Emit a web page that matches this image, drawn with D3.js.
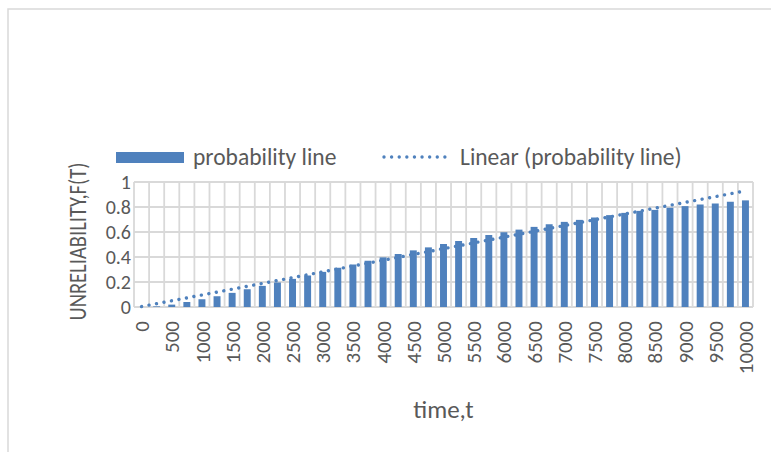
<!DOCTYPE html>
<html>
<head>
<meta charset="utf-8">
<script src="https://cdn.jsdelivr.net/npm/d3@7"></script>
<style>
  html, body { margin: 0; padding: 0; background: #fff; }
  svg { display: block; }
  text { font-family: Carlito, Calibri, Lato, sans-serif; fill: #595959; }
</style>
</head>
<body>
<svg id="chart" width="771" height="452"></svg>
<script>
// time, t (hours) for each bar
const times = [0, 250, 500, 750, 1000, 1250, 1500, 1750, 2000, 2250, 2500, 2750,
  3000, 3250, 3500, 3750, 4000, 4250, 4500, 4750, 5000, 5250, 5500, 5750, 6000,
  6250, 6500, 6750, 7000, 7250, 7500, 7750, 8000, 8250, 8500, 8750, 9000, 9250,
  9500, 9750, 10000];

// unreliability F(t)
const probability = [0, 0.005, 0.019, 0.040, 0.062, 0.086, 0.113, 0.142, 0.169,
  0.196, 0.225, 0.252, 0.281, 0.314, 0.340, 0.370, 0.397, 0.424, 0.453, 0.477,
  0.504, 0.528, 0.552, 0.576, 0.598, 0.619, 0.641, 0.662, 0.681, 0.697, 0.716,
  0.735, 0.753, 0.769, 0.777, 0.794, 0.807, 0.820, 0.828, 0.842, 0.853];

const yTicks = [0, 0.2, 0.4, 0.6, 0.8, 1];
const xTickLabels = [0, 500, 1000, 1500, 2000, 2500, 3000, 3500, 4000, 4500, 5000,
  5500, 6000, 6500, 7000, 7500, 8000, 8500, 9000, 9500, 10000];

const seriesName = "probability line";
const trendName = "Linear (probability line)";
const xTitle = "time,t";
const yTitle = "UNRELIABILITY,F(T)";

const blue = "#4f81bd";
const grid = "#d9d9d9";

const svg = d3.select("#chart");

// outer chart frame
svg.append("path")
  .attr("d", "M8,452 V9 H771")
  .attr("fill", "none").attr("stroke", grid).attr("stroke-width", 1.5);

const plot = { left: 134, right: 753, top: 182, bottom: 307 };

const x = d3.scaleBand()
  .domain(times)
  .range([plot.left, plot.right])
  .paddingInner(0.54).paddingOuter(0.27);

const y = d3.scaleLinear().domain([0, 1]).range([plot.bottom, plot.top]);

// horizontal gridlines
svg.append("g").selectAll("line").data(yTicks).join("line")
  .attr("x1", plot.left).attr("x2", plot.right)
  .attr("y1", d => y(d)).attr("y2", d => y(d))
  .attr("stroke", grid).attr("stroke-width", 1.8);

// vertical gridlines on category boundaries
const boundaries = d3.range(times.length + 1).map(i => plot.left + i * (plot.right - plot.left) / times.length);
svg.append("g").selectAll("line").data(boundaries).join("line")
  .attr("x1", d => d).attr("x2", d => d)
  .attr("y1", plot.top).attr("y2", plot.bottom)
  .attr("stroke", grid).attr("stroke-width", 1.8);

// bars
svg.append("g").selectAll("rect").data(times).join("rect")
  .attr("x", d => x(d))
  .attr("width", x.bandwidth())
  .attr("y", (d, i) => y(probability[i]))
  .attr("height", (d, i) => y(0) - y(probability[i]))
  .attr("fill", blue);

// least-squares linear trend over category index (1..n)
const n = probability.length;
const idx = d3.range(1, n + 1);
const mx = d3.mean(idx), my = d3.mean(probability);
const slope = d3.sum(idx, (k, i) => (k - mx) * (probability[i] - my)) / d3.sum(idx, k => (k - mx) ** 2);
const intercept = my - slope * mx;
const trend = d => intercept + slope * (times.indexOf(d) + 1);
const cx = d => x(d) + x.bandwidth() / 2;

svg.append("line")
  .attr("x1", cx(times[0])).attr("y1", y(trend(times[0])))
  .attr("x2", cx(times[n - 1])).attr("y2", y(trend(times[n - 1])))
  .attr("stroke", blue).attr("stroke-width", 3.4)
  .attr("stroke-linecap", "round").attr("stroke-dasharray", "0.01 7.6");

// y axis labels
svg.append("g").selectAll("text").data(yTicks).join("text")
  .attr("x", 131).attr("y", d => y(d)).attr("dy", "0.36em")
  .attr("text-anchor", "end").style("font-size", "20px")
  .text(d => d);

// x axis labels, rotated
const labelled = new Set(xTickLabels);
svg.append("g").selectAll("text").data(times.filter(t => labelled.has(t))).join("text")
  .attr("transform", d => `translate(${cx(d)},321) rotate(-90)`)
  .attr("dy", "0.36em").attr("text-anchor", "end").style("font-size", "21px")
  .text(d => d);

// axis titles
svg.append("text")
  .attr("transform", `translate(86,${(plot.top + plot.bottom) / 2 - 3}) rotate(-90)`)
  .attr("text-anchor", "middle").style("font-size", "25px")
  .attr("textLength", 158).attr("lengthAdjust", "spacingAndGlyphs")
  .text(yTitle);

svg.append("text")
  .attr("x", (plot.left + plot.right) / 2).attr("y", 418)
  .attr("text-anchor", "middle").style("font-size", "25px")
  .text(xTitle);

// legend
const legY = 157;
const leg = svg.append("g");
leg.append("rect").attr("x", 116).attr("y", legY - 5).attr("width", 68).attr("height", 11).attr("fill", blue);
leg.append("text").attr("x", 193).attr("y", legY).attr("dy", "0.36em").style("font-size", "23.5px").text(seriesName);
leg.append("line").attr("x1", 384).attr("x2", 452).attr("y1", legY).attr("y2", legY)
  .attr("stroke", blue).attr("stroke-width", 3.4)
  .attr("stroke-linecap", "round").attr("stroke-dasharray", "0.01 7.6");
leg.append("text").attr("x", 460).attr("y", legY).attr("dy", "0.36em").style("font-size", "23.5px").text(trendName);
</script>
</body>
</html>
